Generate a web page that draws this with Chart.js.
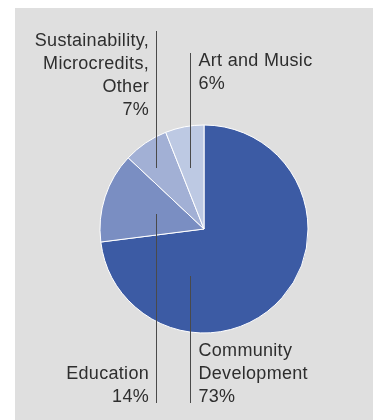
<!DOCTYPE html>
<html>
<head>
<meta charset="utf-8">
<script src="https://cdn.jsdelivr.net/npm/chart.js@4/dist/chart.umd.min.js"></script>
<style>
  html, body { margin: 0; padding: 0; background: #ffffff; }
  #wrap { position: relative; width: 376px; height: 420px; overflow: hidden; }
  #panel { position: absolute; left: 15px; top: 8px; width: 358px; height: 412px; background: #dfdfdf; }
  #chart { position: absolute; left: 0; top: 0; }
</style>
</head>
<body>
<div id="wrap">
  <div id="panel"></div>
  <canvas id="chart" width="376" height="420"></canvas>
</div>
<script>
// Shares of spending, clockwise from twelve o'clock
const categories = ["Community Development", "Education", "Sustainability, Microcredits, Other", "Art and Music"];
const labelLines = [["Community", "Development"], ["Education"], ["Sustainability,", "Microcredits,", "Other"], ["Art and Music"]];
const shares = [73, 14, 7, 6];
const sliceColors = ["#3c5ba4", "#7a8ec2", "#a2b0d5", "#bdc9e3"];

// Callout layout, in pixels relative to the pie centre:
// leader x, leader top/bottom, text side, baseline of first (top) or last (bottom) line
const callouts = [
  { dx: -14.5, y0: 47,   y1: 174, side: "right", anchor: "bottom", base: 173 },
  { dx: -48.5, y0: -15,  y1: 174, side: "left",  anchor: "bottom", base: 173 },
  { dx: -48.5, y0: -198, y1: -61, side: "left",  anchor: "top",    base: -183 },
  { dx: -14.5, y0: -176, y1: -61, side: "right", anchor: "top",    base: -163 }
];

const calloutPlugin = {
  id: "callouts",
  afterDraw(chart) {
    const ctx = chart.ctx;
    const arc = chart.getDatasetMeta(0).data[0];
    const cx = arc.x, cy = arc.y;
    const lineH = 23;
    ctx.save();
    ctx.font = "18px 'Liberation Sans', Arial, sans-serif";
    if ("letterSpacing" in ctx) ctx.letterSpacing = "0.3px";
    ctx.textBaseline = "alphabetic";
    callouts.forEach((c, i) => {
      const x = Math.round(cx + c.dx) + 0.5;
      ctx.strokeStyle = "#4a4a4a";
      ctx.lineWidth = 1;
      ctx.beginPath();
      ctx.moveTo(x, cy + c.y0);
      ctx.lineTo(x, cy + c.y1);
      ctx.stroke();

      const lines = labelLines[i].concat([shares[i] + "%"]);
      const first = c.anchor === "top" ? c.base : c.base - lineH * (lines.length - 1);
      ctx.fillStyle = "#2e2e2e";
      ctx.textAlign = c.side === "left" ? "right" : "left";
      const tx = c.side === "left" ? x - 7.5 : x + 8;
      lines.forEach((t, k) => ctx.fillText(t, tx, cy + first + k * lineH));
    });
    ctx.restore();
  }
};

new Chart(document.getElementById("chart"), {
  type: "pie",
  data: {
    labels: categories,
    datasets: [{
      data: shares,
      backgroundColor: sliceColors,
      borderColor: "#ffffff",
      borderWidth: 1
    }]
  },
  options: {
    responsive: false,
    animation: false,
    radius: 104,
    layout: { padding: { left: 100, right: 68, top: 125, bottom: 87 } },
    plugins: {
      legend: { display: false },
      tooltip: { enabled: false }
    }
  },
  plugins: [calloutPlugin]
});
</script>
</body>
</html>
